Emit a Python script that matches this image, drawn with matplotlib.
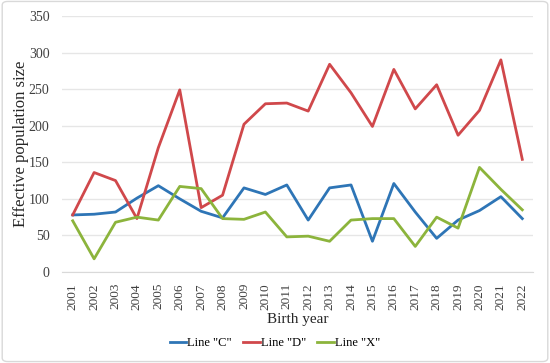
import matplotlib
matplotlib.use('Agg')
import matplotlib.pyplot as plt
from matplotlib.patches import FancyBboxPatch

years = [str(y) for y in range(2001, 2023)]
line_c = [78, 79, 82, 101, 118, 100, 83, 74, 115, 106, 119, 71, 115, 119, 42, 121, 82, 46, 71, 84, 103, 73]
line_d = [78, 136, 125, 73, 170, 249, 88, 105, 202, 230, 231, 220, 284, 245, 199, 277, 223, 256, 187, 221, 290, 154]
line_x = [70, 18, 68, 75, 71, 117, 114, 73, 72, 82, 48, 49, 42, 71, 73, 73, 35, 75, 60, 143, 113, 85]
yticks = [0, 50, 100, 150, 200, 250, 300, 350]

plt.rcParams['font.family'] = ['Liberation Serif', 'DejaVu Serif']

fig = plt.figure(figsize=(5.5, 3.63), dpi=100)
ax = fig.add_axes([62/550, 1 - 272/363, 471/550, 256/363])

# outer frame
fig.patches.append(FancyBboxPatch((0.004, 0.004), 0.992, 0.992, boxstyle='round,pad=0,rounding_size=0.01',
                                  transform=fig.transFigure, fill=False, edgecolor='#d9d9d9', linewidth=1))

x = range(len(years))
ax.plot(x, line_c, color='#2e75b6', linewidth=2, label='Line "C"')
ax.plot(x, line_d, color='#d0484b', linewidth=2, label='Line "D"')
ax.plot(x, line_x, color='#8cb43c', linewidth=2, label='Line "X"')

ax.set_xlim(-0.5, len(years) - 0.5)
ax.set_ylim(0, 350)
ax.set_yticks(yticks)
ax.set_xticks(list(x))
ax.set_xticklabels(years, rotation=90, fontsize=9.5, color='#404040')
ax.tick_params(axis='y', labelsize=10, colors='#404040', length=0, pad=9)
ax.tick_params(axis='x', length=0, pad=8)
ax.grid(axis='y', color='#e6e6e6', linewidth=1)
ax.set_axisbelow(True)
for s in ['top', 'right', 'left']:
    ax.spines[s].set_visible(False)
ax.spines['bottom'].set_color('#d9d9d9')

ax.set_xlabel('Birth year', fontsize=11, color='#262626', labelpad=2)
ax.set_ylabel('Effective population size', fontsize=12, color='#262626', labelpad=0)

fig.legend(loc='center', bbox_to_anchor=(0.5, 1 - 343/363), ncol=3, frameon=False,
           fontsize=9, handlelength=1.3, handletextpad=0.1, columnspacing=0.9)

fig.savefig('out.png', dpi=100)
